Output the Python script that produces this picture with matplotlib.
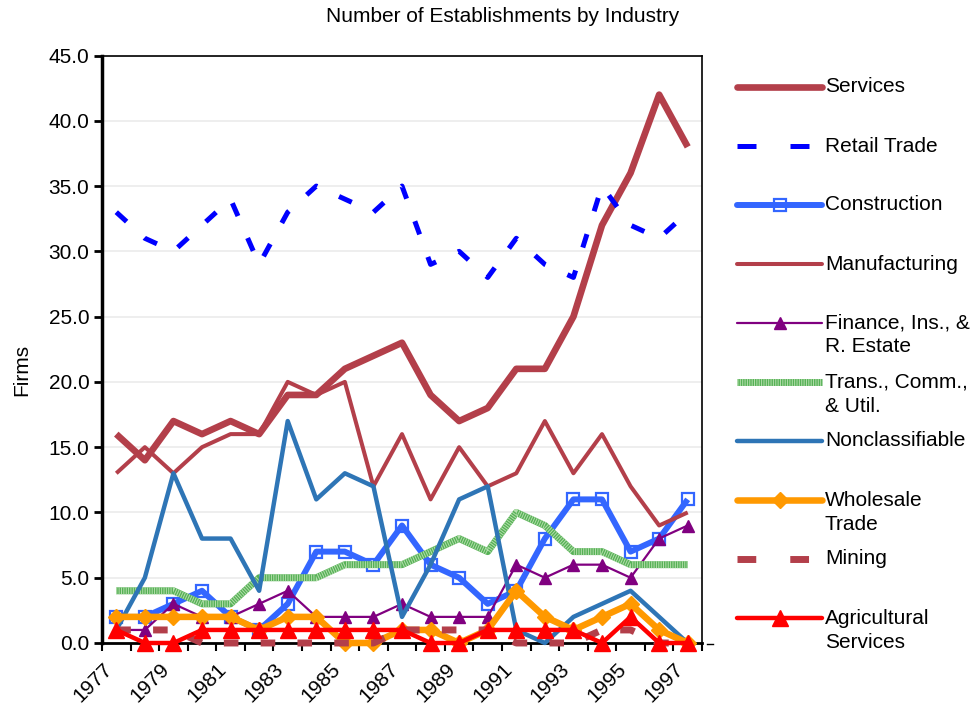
import matplotlib
matplotlib.use("Agg")
import matplotlib.pyplot as plt
import matplotlib.transforms as mtransforms
from matplotlib.lines import Line2D
import numpy as np

plt.rcParams["font.family"] = ["Liberation Sans", "DejaVu Sans"]

# data
years = list(range(1977, 1998))
year_labels = [str(y) for y in years[::2]]

services = [16, 14, 17, 16, 17, 16, 19, 19, 21, 22, 23, 19, 17, 18, 21, 21, 25, 32, 36, 42, 38]
retail = [33, 31, 30, 32, 34, 29, 33, 35, 34, 33, 35, 29, 30, 28, 31, 29, 28, 35, 32, 31, 33]
construction = [2, 2, 3, 4, 2, 1, 3, 7, 7, 6, 9, 6, 5, 3, 4, 8, 11, 11, 7, 8, 11]
manufacturing = [13, 15, 13, 15, 16, 16, 20, 19, 20, 12, 16, 11, 15, 12, 13, 17, 13, 16, 12, 9, 10]
finance = [1, 1, 3, 2, 2, 3, 4, 2, 2, 2, 3, 2, 2, 2, 6, 5, 6, 6, 5, 8, 9]
trans = [4, 4, 4, 3, 3, 5, 5, 5, 6, 6, 6, 7, 8, 7, 10, 9, 7, 7, 6, 6, 6]
nonclass = [1, 5, 13, 8, 8, 4, 17, 11, 13, 12, 2, 6, 11, 12, 1, 0, 2, 3, 4, 2, 0]
wholesale = [2, 2, 2, 2, 2, 1, 2, 2, 0, 0, 1, 1, 0, 1, 4, 2, 1, 2, 3, 1, 0]
mining = [1, 1, 1, 0, 0, 0, 0, 0, 0, 0, 1, 1, 1, 1, 0, 0, 0, 1, 1, 0, 0]
agri = [1, 0, 0, 1, 1, 1, 1, 1, 1, 1, 1, 0, 0, 1, 1, 1, 1, 0, 2, 0, 0]

names = ["Services", "Retail Trade", "Construction", "Manufacturing",
         "Finance, Ins., &\nR. Estate", "Trans., Comm.,\n& Util.", "Nonclassifiable",
         "Wholesale\nTrade", "Mining", "Agricultural\nServices"]

DARKRED = "#B33F4A"

styles = [
    dict(color=DARKRED, lw=4.8),
    dict(color="#0000FF", lw=3.6, dashes=(2.8, 4.8)),
    dict(color="#3366FF", lw=4.3, marker="s", ms=8.5, mfc="none", mec="#3366FF", mew=1.6),
    dict(color=DARKRED, lw=2.9),
    dict(color="#800080", lw=1.6, marker="^", ms=9),
    dict(color="#56B156", lw=5.0),
    dict(color="#2E75B6", lw=3.2),
    dict(color="#FF9900", lw=4.7, marker="D", ms=8),
    dict(color=DARKRED, lw=5.0, dashes=(2.1, 3.2)),
    dict(color="#FF0000", lw=3.2, marker="^", ms=11),
]
legend_dashes = {1: (3.8, 6.8), 8: (2.7, 4.9)}
# light speckle drawn over the transport line to mimic its hatch fill
hatch = dict(color="#B4DEAC", lw=5.0, dashes=(0.14, 0.2))

series = [services, retail, construction, manufacturing, finance,
          trans, nonclass, wholesale, mining, agri]

W, H = 978, 711
fig = plt.figure(figsize=(W / 100, H / 100), dpi=100)
ax = fig.add_axes([102 / W, 68 / H, 600 / W, 587.5 / H])

x = np.arange(len(years))
for i, (vals, st) in enumerate(zip(series, styles)):
    ax.plot(x, vals, solid_capstyle="butt", zorder=3 + i, clip_on=False, **st)
    if i == 5:
        ax.plot(x, vals, solid_capstyle="butt", zorder=3 + i, **hatch)

ax.set_ylim(0, 45)
ax.set_xlim(-0.5, len(years) - 0.5)
ax.set_yticks(np.arange(0, 46, 5))
ax.set_yticklabels([f"{v:.1f}" for v in np.arange(0, 46, 5)])
ax.yaxis.grid(True, color="#EBEBEB", lw=1.2)
ax.set_axisbelow(True)

ax.set_xticks(x[::2])
ax.set_xticklabels(year_labels)
ax.set_xticks(np.arange(-0.5, len(years), 1), minor=True)
ax.tick_params(axis="x", which="major", length=0, pad=14, labelsize=15)
ax.tick_params(axis="x", which="minor", length=6, width=1.5, direction="out")
ax.tick_params(axis="y", length=6, width=2, direction="out", labelsize=15, pad=3)
shift = mtransforms.ScaledTranslation(-0.07, -0.04, fig.dpi_scale_trans)
for lab in ax.get_xticklabels():
    lab.set_rotation(45)
    lab.set_ha("right")
    lab.set_va("center")
    lab.set_rotation_mode("anchor")
    lab.set_transform(lab.get_transform() + shift)

ax.spines["left"].set_linewidth(2.5)
ax.spines["bottom"].set_linewidth(2)
ax.spines["top"].set_linewidth(1.2)
ax.spines["right"].set_linewidth(1.2)

fig.text(503 / W, 1 - 17 / H, "Number of Establishments by Industry",
         ha="center", va="center", fontsize=15)
fig.text(22 / W, 1 - 370 / H, "Firms", rotation=90, ha="center", va="center", fontsize=15)
fig.add_artist(Line2D([707 / W, 713 / W], [1 - 644 / H, 1 - 644 / H], color="black", lw=1))

# legend drawn by hand to the right of the plot
x0, x1, tx = 737 / W, 822 / W, 825 / W
for i, (name, st) in enumerate(zip(names, styles)):
    yy = 87 + 59 * i
    yf = 1 - yy / H
    st = dict(st)
    if i in legend_dashes:
        st["dashes"] = legend_dashes[i]
    cap = "butt" if i == 5 else "round"
    fig.add_artist(Line2D([x0, (x0 + x1) / 2, x1], [yf, yf, yf], transform=fig.transFigure,
                          markevery=[1], solid_capstyle=cap, **st))
    if i == 5:
        fig.add_artist(Line2D([x0, x1], [yf, yf], transform=fig.transFigure,
                              solid_capstyle="butt", **hatch))
    for k, part in enumerate(name.split("\n")):
        fig.text(tx, 1 - (yy + 24 * k) / H, part, ha="left", va="center", fontsize=15)

fig.savefig("out.png", dpi=100)
